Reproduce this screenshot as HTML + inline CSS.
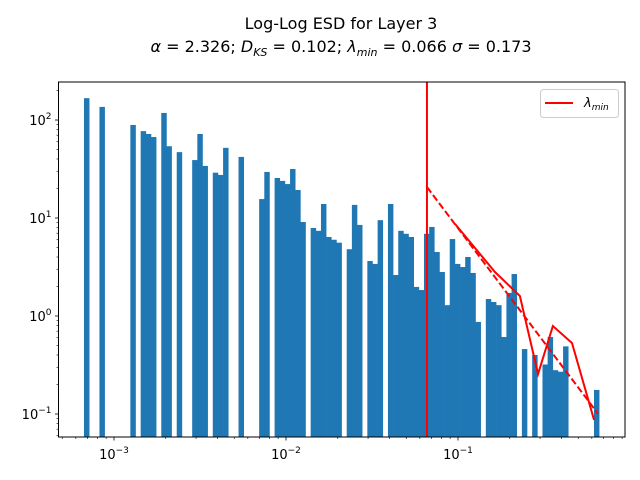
<!DOCTYPE html>
<html><head><meta charset="utf-8"><style>
body{margin:0;background:#fff;}
svg{display:block;font-family:"DejaVu Sans","Liberation Sans",sans-serif;}
</style></head><body>
<svg id="chart" width="640" height="480" viewBox="0 0 640 480" xmlns="http://www.w3.org/2000/svg">
<rect width="640" height="480" fill="#fff"/>
<text x="341" y="29" font-size="16" text-anchor="middle">Log-Log ESD for Layer 3</text>
<text x="341" y="52" font-size="16" text-anchor="middle"><tspan font-style="italic">α</tspan> = 2.326; <tspan font-style="italic">D</tspan><tspan font-size="11" dy="4" font-style="italic">KS</tspan><tspan dy="-4"> = 0.102; </tspan><tspan font-style="italic">λ</tspan><tspan font-size="11" dy="4" font-style="italic">min</tspan><tspan dy="-4"> = 0.066 </tspan><tspan font-style="italic">σ</tspan> = 0.173</text>
<g id="plot"></g>
</svg>
<script>
// histogram data: bin indices and counts
const binIndex = [0,3,9,11,12,13,15,16,18,21,22,23,25,26,27,30,
34,35,37,38,39,40,41,42,44,45,46,47,48,49,51,52,53,55,56,57,
59,60,61,62,63,64,65,66,67,68,69,70,71,72,73,74,75,76,78,79,80,81,82,83,85,87,89,90,91,92,93,99];
const binCounts = [167,136,89,77,72,67,118,54,47,39,72,34,29,27.5,52,42,
15.6,29.5,25.6,23.9,22.2,31.6,19.3,9.1,7.9,7.4,13.9,6.4,6.0,5.6,4.8,13.6,8.5,3.64,3.4,9.5,
13.9,2.62,7.4,6.9,6.4,1.98,1.84,6.9,8.1,4.5,2.81,1.29,6.1,3.4,3.16,4.0,2.75,0.87,1.49,1.39,1.29,0.61,1.72,2.68,0.46,0.40,0.32,0.61,0.28,0.27,0.49,0.176];
const binStartLog = -3.1744;
const binWidthLog = 0.02995;
// fit
const alpha = 2.326;
const xmin = 0.066;
const fitAtXmin = 20.7;
const fitXmax = 0.652;
// empirical line
const lineX = [0.0962,0.164,0.229,0.292,0.356,0.460,0.618];
const lineY = [8.69,2.81,1.60,0.256,0.79,0.53,0.087];
const xTickExps = [-3,-2,-1];
const yTickExps = [-1,0,1,2];

const L=58.5,R=625,T=82,B=437;
const xS = v => 114 + 172*(Math.log10(v)+3);
const xL = lg => 114 + 172*(lg+3);
const yS = v => 316 - 98*Math.log10(v);
const NS="http://www.w3.org/2000/svg";
const g=document.getElementById('plot');
function mk(tag,attrs,parent){const e=document.createElementNS(NS,tag);for(const k in attrs)e.setAttribute(k,attrs[k]);(parent||g).appendChild(e);return e;}

const bars=mk('g',{});


binIndex.forEach((bi,i)=>{
  const x0=xL(binStartLog+bi*binWidthLog), x1=xL(binStartLog+(bi+1)*binWidthLog);
  const y=yS(binCounts[i]);
  const r=mk('rect',{x:x0,y:y,width:x1-x0+0.3,height:B-y,fill:'#1f77b4'},bars);
  
  
});
// vertical lambda min
const vl=mk('line',{x1:xS(xmin),x2:xS(xmin),y1:T,y2:B,stroke:'#f00','stroke-width':2});


// fit dashed
const fit=mk('line',{x1:xS(xmin),y1:yS(fitAtXmin),x2:xS(fitXmax),y2:yS(fitAtXmin*Math.pow(fitXmax/xmin,-alpha)),stroke:'#f00','stroke-width':2,'stroke-dasharray':'7,3'});


// empirical
const pl=mk('polyline',{points:lineX.map((x,i)=>xS(x)+','+yS(lineY[i])).join(' '),fill:'none',stroke:'#f00','stroke-width':2});


// frame
const fr=mk('rect',{x:L,y:T,width:R-L,height:B-T,fill:'none',stroke:'#000','stroke-width':1});


// x ticks
for(let e=-4;e<=0;e++){for(let m=1;m<10;m++){const px=xS(m*Math.pow(10,e));if(px<L||px>R)continue;
  mk('line',{x1:px,x2:px,y1:B,y2:B+(m==1?3.5:2),stroke:'#000','stroke-width':m==1?0.8:0.6});}}
xTickExps.forEach(e=>{const t=mk('text',{x:xS(Math.pow(10,e)),y:B+22,'font-size':13,'text-anchor':'middle'});
  
  t.innerHTML='10<tspan font-size="9" dy="-6">−'+(-e)+'</tspan>';});
// y ticks
for(let e=-2;e<=2;e++){for(let m=1;m<10;m++){const py=yS(m*Math.pow(10,e));if(py<T||py>B)continue;
  mk('line',{x1:L,x2:L-(m==1?3.5:2),y1:py,y2:py,stroke:'#000','stroke-width':m==1?0.8:0.6});}}
yTickExps.forEach(e=>{const t=mk('text',{x:L-7,y:yS(Math.pow(10,e))+5,'font-size':13,'text-anchor':'end'});
  
  t.innerHTML='10<tspan font-size="9" dy="-6">'+(e<0?'−'+(-e):e)+'</tspan>';});
// legend
const lg=mk('g',{});


mk('rect',{x:540.5,y:89.5,width:78,height:28,rx:3,fill:'#fff',stroke:'#ccc'},lg);
mk('line',{x1:545,x2:573,y1:103,y2:103,stroke:'#f00','stroke-width':2},lg);
const lt=mk('text',{x:584,y:107,'font-size':13,'font-style':'italic'},lg);
lt.innerHTML='λ<tspan font-size="9" dy="3">min</tspan>';
</script>
</body></html>
